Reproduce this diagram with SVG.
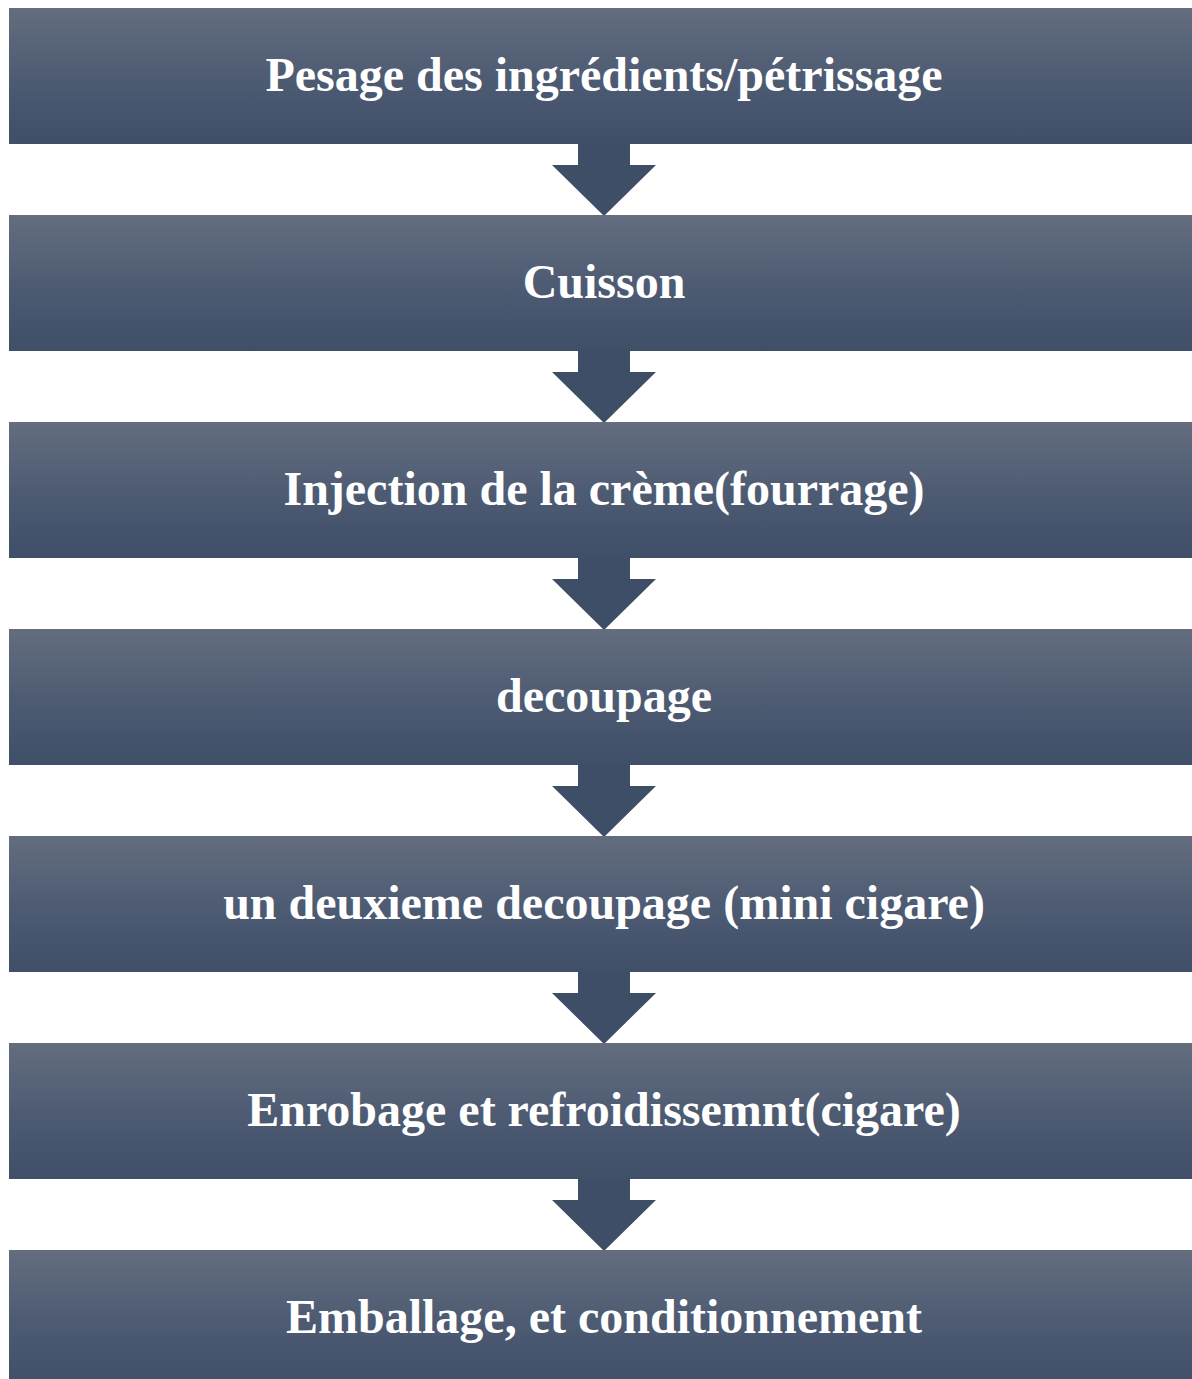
<svg xmlns="http://www.w3.org/2000/svg" width="1192" height="1379" viewBox="0 0 1192 1379">
<defs>
<linearGradient id="g" x1="0" y1="0" x2="0" y2="1">
<stop offset="0" stop-color="#636d7e"/>
<stop offset="0.55" stop-color="#4c5a72"/>
<stop offset="1" stop-color="#3f4f68"/>
</linearGradient>
<style>
.box{fill:url(#g);}
.t{font-family:"Liberation Serif","Times New Roman",serif;font-weight:bold;font-size:48px;fill:#ffffff;text-anchor:middle;}
.arr{fill:#3f4e67;}
</style>
</defs>
<rect width="1192" height="1379" fill="#ffffff"/>
<g id="connectors">
<polygon class="arr" points="578,143 630,143 630,165 656,165 604,216 552,165 578,165"/>
<polygon class="arr" points="578,350 630,350 630,372 656,372 604,423 552,372 578,372"/>
<polygon class="arr" points="578,557 630,557 630,579 656,579 604,630 552,579 578,579"/>
<polygon class="arr" points="578,764 630,764 630,786 656,786 604,837 552,786 578,786"/>
<polygon class="arr" points="578,971 630,971 630,993 656,993 604,1044 552,993 578,993"/>
<polygon class="arr" points="578,1178 630,1178 630,1200 656,1200 604,1251 552,1200 578,1200"/>
</g>
<g id="n1"><rect class="box" x="9" y="8" width="1183" height="136"/><text class="t" x="604" y="91">Pesage des ingrédients/pétrissage</text></g>
<g id="n2"><rect class="box" x="9" y="215" width="1183" height="136"/><text class="t" x="604" y="298">Cuisson</text></g>
<g id="n3"><rect class="box" x="9" y="422" width="1183" height="136"/><text class="t" x="604" y="505">Injection de la crème(fourrage)</text></g>
<g id="n4"><rect class="box" x="9" y="629" width="1183" height="136"/><text class="t" x="604" y="712">decoupage</text></g>
<g id="n5"><rect class="box" x="9" y="836" width="1183" height="136"/><text class="t" x="604" y="919">un deuxieme decoupage (mini cigare)</text></g>
<g id="n6"><rect class="box" x="9" y="1043" width="1183" height="136"/><text class="t" x="604" y="1126">Enrobage et refroidissemnt(cigare)</text></g>
<g id="n7"><rect class="box" x="9" y="1250" width="1183" height="136"/><text class="t" x="604" y="1333">Emballage, et conditionnement</text></g>
</svg>
